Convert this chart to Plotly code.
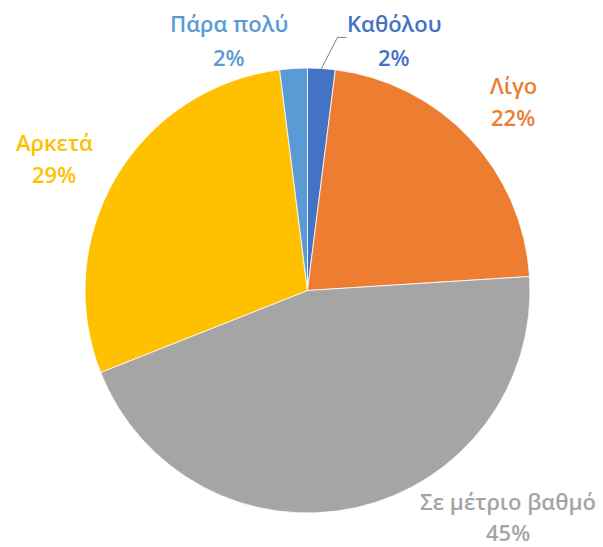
import math
import plotly.graph_objects as go

# Survey answers, in clockwise order starting at 12 o'clock
categories = ["Καθόλου", "Λίγο", "Σε μέτριο βαθμό", "Αρκετά", "Πάρα πολύ"]
shares = [2, 22, 45, 29, 2]
colors = ["#4472C4", "#ED7D31", "#A5A5A5", "#FFC000", "#5B9BD5"]

W, H = 603, 547
CX, CY, R = 307.5, 290.5, 222.5  # pie centre and radius, pixels

# label centres (pixels): x, name line y, value line y
label_pos = {
    "Καθόλου": (394, 23, 57),
    "Λίγο": (513, 85, 117),
    "Σε μέτριο βαθμό": (508, 501, 532),
    "Αρκετά": (54, 142, 174),
    "Πάρα πολύ": (229, 23, 57),
}


def px(x):
    return x / W


def py(y):
    return 1 - y / H


fig = go.Figure(
    go.Pie(
        labels=categories,
        values=shares,
        sort=False,
        direction="clockwise",
        rotation=0,
        marker=dict(colors=colors, line=dict(color="white", width=0.8)),
        textinfo="none",
        hoverinfo="label+percent",
        domain=dict(x=[px(CX - R), px(CX + R)], y=[py(CY + R), py(CY - R)]),
        showlegend=False,
    )
)

font = dict(family="Open Sans, Noto Sans, sans-serif", size=22, weight=600)
total = sum(shares)
annotations = []
for name, val, col in zip(categories, shares, colors):
    x, y1, y2 = label_pos[name]
    pct = f"{round(100 * val / total)}%"
    for text, y in ((name, y1), (pct, y2)):
        annotations.append(
            dict(
                x=px(x), y=py(y), xref="paper", yref="paper",
                text=text, showarrow=False, xanchor="center", yanchor="middle",
                font=dict(font, color=col),
            )
        )

# leader line from the small "Καθόλου" slice to its label
cum = 0
for name, val in zip(categories, shares):
    if name == "Καθόλου":
        mid = 2 * math.pi * (cum + val / 2) / total
        break
    cum += val
ax = CX + R * math.sin(mid)
ay = CY - R * math.cos(mid)
elbow = (ax + 16, ay - 31)
end = (elbow[0] + 9, elbow[1])
fig.add_shape(
    type="path",
    xref="paper", yref="paper",
    path=f"M {px(ax)} {py(ay)} L {px(elbow[0])} {py(elbow[1])} L {px(end[0])} {py(end[1])}",
    line=dict(color="#7F7F7F", width=1),
)

fig.update_layout(
    width=W, height=H,
    margin=dict(l=0, r=0, t=0, b=0),
    paper_bgcolor="white",
    plot_bgcolor="white",
    annotations=annotations,
)

fig.write_html("out.html")
